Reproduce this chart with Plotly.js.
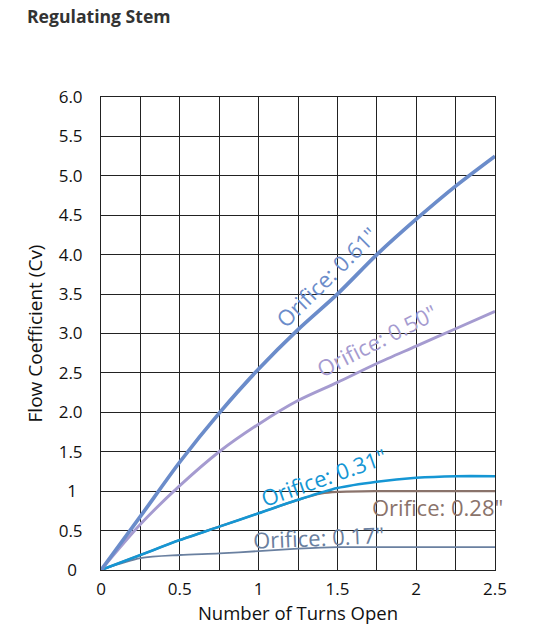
<!DOCTYPE html>
<html>
<head>
<meta charset="utf-8">
<script src="https://cdn.plot.ly/plotly-3.0.1.min.js"></script>
<style>html,body{margin:0;padding:0;background:#fff;}#chart{width:540px;height:625px;}</style>
</head>
<body>
<div id="chart"></div>
<script>
var turns = [0, 0.25, 0.5, 0.75, 1, 1.25, 1.5, 1.75, 2, 2.25, 2.5];
var cv061 = [0, 0.68, 1.37, 1.99, 2.55, 3.05, 3.5, 4.0, 4.45, 4.87, 5.25];
var cv050 = [0, 0.58, 1.07, 1.5, 1.85, 2.15, 2.38, 2.62, 2.84, 3.06, 3.28];
var cv031 = [0, 0.19, 0.38, 0.55, 0.72, 0.89, 1.04, 1.12, 1.17, 1.19, 1.19];
var turns028 = [0, 0.25, 0.5, 0.75, 1, 1.25, 1.4, 1.5, 1.75, 2, 2.25, 2.5];
var cv028 = [0, 0.19, 0.38, 0.55, 0.72, 0.89, 0.97, 0.99, 1.0, 1.0, 1.0, 1.0];
var cv017 = [0, 0.15, 0.19, 0.21, 0.24, 0.27, 0.29, 0.29, 0.29, 0.29, 0.29];

var yTickVals = [0, 0.5, 1, 1.5, 2, 2.5, 3, 3.5, 4, 4.5, 5, 5.5, 6];
var yTickText = ["0\u2009\u2009", "0.5", "1\u2009\u2009", "1.5", "2.0", "2.5", "3.0", "3.5", "4.0", "4.5", "5.0", "5.5", "6.0"];
var xTickVals = [0, 0.5, 1, 1.5, 2, 2.5];
var xTickText = ["0", "0.5", "1", "1.5", "2", "2.5"];

var labels = ['Orifice: 0.61"', 'Orifice: 0.50"', 'Orifice: 0.31"', 'Orifice: 0.28"', 'Orifice: 0.17"'];
var labelX = [1.428, 1.751, 1.409, 2.132, 1.377];
var labelY = [3.717, 2.918, 1.18, 0.80, 0.42];
var labelAngle = [-44.5, -27, -19.5, 0, -2.5];
var colors = ['#6b8cca', '#a59bd0', '#1596d4', '#8a736b', '#6a80a0'];

var font = "'Open Sans', 'Noto Sans', sans-serif";

function tr(x, y, c, w) {
  return {x: x, y: y, mode: 'lines', type: 'scatter', line: {color: c, width: w, shape: 'spline', smoothing: 0.8}, hoverinfo: 'skip', showlegend: false};
}

var data = [
  tr(turns, cv017, colors[4], 1.8),
  tr(turns028, cv028, colors[3], 2.2),
  tr(turns, cv031, colors[2], 2.6),
  tr(turns, cv050, colors[1], 2.9),
  tr(turns, cv061, colors[0], 3.7)
];

var annotations = labels.map(function (t, i) {
  return {x: labelX[i], y: labelY[i], xref: 'x', yref: 'y', text: t, showarrow: false,
    textangle: labelAngle[i], font: {family: font, size: 22, color: colors[i]}};
});

var layout = {
  width: 540, height: 625,
  margin: {l: 101, r: 45, t: 97, b: 55},
  paper_bgcolor: '#fff', plot_bgcolor: '#fff',
  title: {text: '<b>Regulating Stem</b>', x: 0.05, xanchor: 'left', y: 0.973, yanchor: 'middle',
    font: {family: font, size: 17.6, color: '#333'}},
  xaxis: {range: [0, 2.5], tickvals: xTickVals, ticktext: xTickText,
    showgrid: true, gridcolor: '#222', gridwidth: 1,
    minor: {dtick: 0.25, tick0: 0, showgrid: true, gridcolor: '#222', gridwidth: 1},
    showline: true, linecolor: '#222', linewidth: 1, mirror: true, zeroline: false,
    ticks: '', ticklabelstandoff: 4,
    tickfont: {family: font, size: 17, color: '#111'},
    title: {text: 'Number of Turns Open', standoff: 5, font: {family: font, size: 18.5, color: '#111'}}},
  yaxis: {range: [0, 6], tickvals: yTickVals, ticktext: yTickText,
    showgrid: true, gridcolor: '#222', gridwidth: 1,
    showline: true, linecolor: '#222', linewidth: 1, mirror: true, zeroline: false,
    ticks: '', ticklabelstandoff: 14,
    tickfont: {family: font, size: 17, color: '#111'},
    title: {text: 'Flow Coefficient (Cv)', standoff: 11, font: {family: font, size: 19, color: '#111'}}},
  annotations: annotations
};

Plotly.newPlot('chart', data, layout, {displayModeBar: false, staticPlot: true});
</script>
</body>
</html>
